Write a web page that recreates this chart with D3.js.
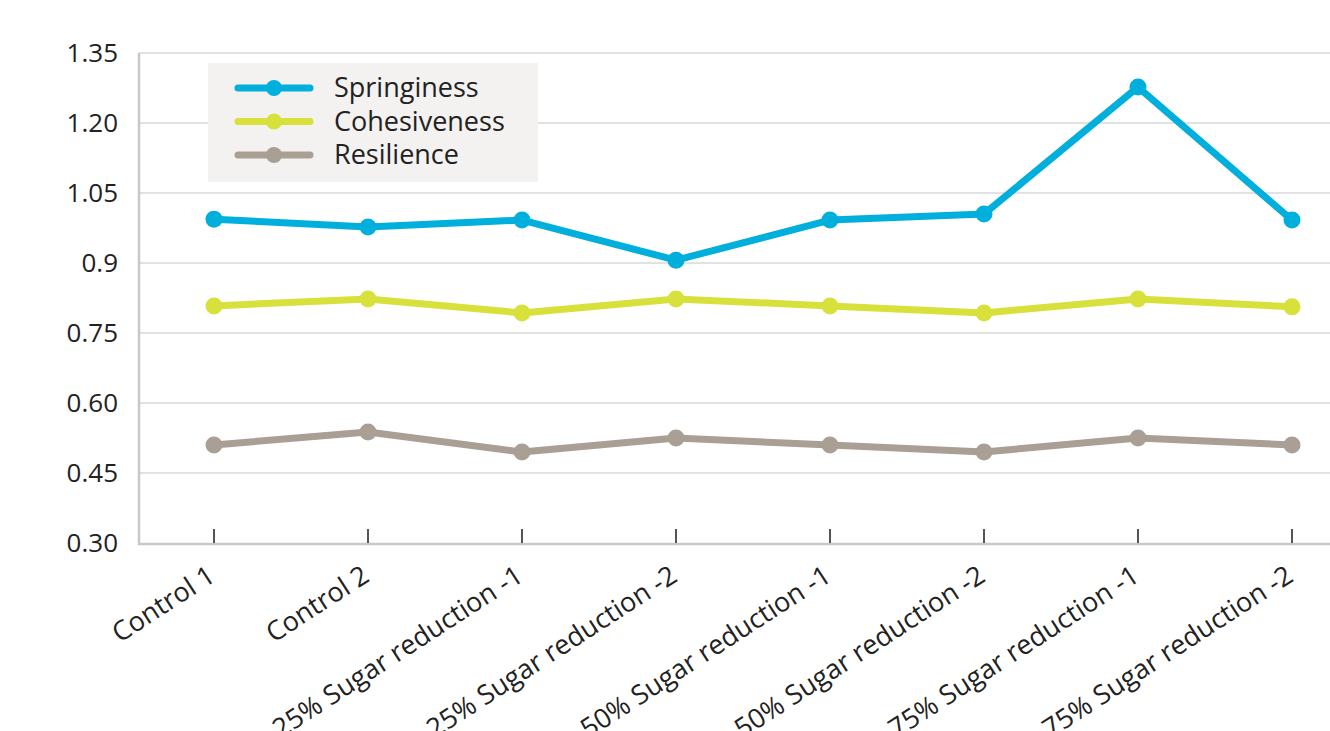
<!DOCTYPE html>
<html>
<head>
<meta charset="utf-8">
<script src="https://cdn.jsdelivr.net/npm/d3@7"></script>
<style>
  body { margin: 0; background: #fff; }
  text { font-family: "Open Sans", "Noto Sans", sans-serif; fill: #222; }
</style>
</head>
<body>
<div id="chart"></div>
<script>
// datos
const categories = ["Control 1", "Control 2", "25% Sugar reduction -1", "25% Sugar reduction -2",
  "50% Sugar reduction -1", "50% Sugar reduction -2", "75% Sugar reduction -1", "75% Sugar reduction -2"]
const springiness = [0.994, 0.977, 0.992, 0.906, 0.992, 1.005, 1.277, 0.992]
const cohesiveness = [0.808, 0.823, 0.793, 0.823, 0.808, 0.793, 0.823, 0.806]
const resilience = [0.510, 0.538, 0.495, 0.525, 0.510, 0.495, 0.525, 0.510]
const yTicks = [0.30, 0.45, 0.60, 0.75, 0.90, 1.05, 1.20, 1.35]
const yTickLabels = ["0.30", "0.45", "0.60", "0.75", "0.9", "1.05", "1.20", "1.35"]

const seriesNames = ["Springiness", "Cohesiveness", "Resilience"]
const seriesColors = ["#00afdb", "#d8e13c", "#aa9f95"]
const series = [springiness, cohesiveness, resilience]

const width = 1330
const height = 731

const svg = d3.select("#chart").append("svg")
    .attr("width", width)
    .attr("height", height)

const x = d3.scalePoint().domain(categories).range([214, 1292])
const y = d3.scaleLinear().domain([0.30, 1.35]).range([543, 53])

// rejilla
svg.append("g").selectAll("line")
    .data(yTicks.slice(1))
    .enter().append("line")
    .attr("x1", 139).attr("x2", width)
    .attr("y1", d => y(d)).attr("y2", d => y(d))
    .attr("stroke", "#e2e2e2").attr("stroke-width", 2)

// ejes
svg.append("line")
    .attr("x1", 139).attr("x2", 139).attr("y1", 53).attr("y2", 545)
    .attr("stroke", "#c8c8c8").attr("stroke-width", 2.5)
svg.append("line")
    .attr("x1", 138).attr("x2", width).attr("y1", 544).attr("y2", 544)
    .attr("stroke", "#c8c8c8").attr("stroke-width", 2.5)

svg.append("g").selectAll("text")
    .data(yTicks)
    .enter().append("text")
    .attr("x", 118)
    .attr("y", d => y(d) + 9)
    .attr("text-anchor", "end")
    .style("font-size", "26px")
    .text((d, i) => yTickLabels[i])

// marcas del eje x
svg.append("g").selectAll("line")
    .data(categories)
    .enter().append("line")
    .attr("x1", d => x(d)).attr("x2", d => x(d))
    .attr("y1", 529).attr("y2", 543)
    .attr("stroke", "#555").attr("stroke-width", 2)

// etiquetas giradas (se cortan abajo como en el original)
svg.append("g").selectAll("text")
    .data(categories)
    .enter().append("text")
    .attr("text-anchor", "end")
    .attr("transform", d => `translate(${x(d) + 3}, ${580}) rotate(-33)`)
    .style("font-size", "27px")
    .text(d => d)

// líneas
const line = d3.line()
    .x((d, i) => x(categories[i]))
    .y(d => y(d))

series.forEach((s, k) => {
    svg.append("path")
        .datum(s)
        .attr("fill", "none")
        .attr("stroke", seriesColors[k])
        .attr("stroke-width", 7)
        .attr("stroke-linejoin", "round")
        .attr("d", line)
    svg.append("g").selectAll("circle")
        .data(s)
        .enter().append("circle")
        .attr("cx", (d, i) => x(categories[i]))
        .attr("cy", d => y(d))
        .attr("r", 8.5)
        .attr("fill", seriesColors[k])
})

// leyenda
const legend = svg.append("g")
legend.append("rect")
    .attr("x", 208).attr("y", 63).attr("width", 330).attr("height", 119)
    .attr("fill", "#f3f2f0")
seriesNames.forEach((name, k) => {
    const ly = 88 + k * 33.5
    legend.append("line")
        .attr("x1", 238).attr("x2", 310).attr("y1", ly).attr("y2", ly)
        .attr("stroke", seriesColors[k]).attr("stroke-width", 7)
        .attr("stroke-linecap", "round")
    legend.append("circle")
        .attr("cx", 274).attr("cy", ly).attr("r", 8)
        .attr("fill", seriesColors[k])
    legend.append("text")
        .attr("x", 334).attr("y", ly + 9)
        .style("font-size", "27px")
        .text(name)
})
</script>
</body>
</html>
